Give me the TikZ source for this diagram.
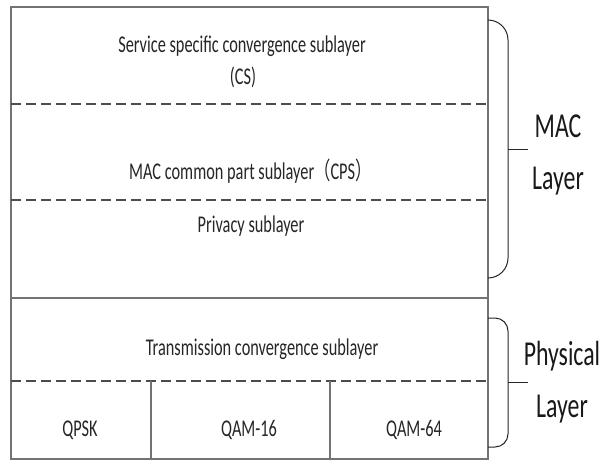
\documentclass[tikz,border=0pt]{standalone}
\usepackage{fontspec}
\setmainfont{Carlito}
\newfontfamily\cjk{Noto Sans CJK SC}
\usepackage{graphicx}
% narrow text, as in the layer labels
\newcommand{\cond}[1]{\scalebox{0.68}[1]{#1}}
\tikzset{
  layerbox/.style={draw=black!55, line width=1.5pt},
  sep/.style={draw=black!70, line width=2.4pt, dash pattern=on 10pt off 5pt},
  brace/.style={draw=black!85, line width=1pt},
  lbl/.style={font=\fontsize{24}{29}\selectfont, text=black!85, inner sep=0pt},
  side/.style={font=\fontsize{35}{52}\selectfont, align=center, text=black!90, inner sep=0pt},
}
\begin{document}
\begin{tikzpicture}[x=1pt,y=-1pt]
\useasboundingbox (0,0) rectangle (603,461);
\fill[white] (0,0) rectangle (603,461);
% MAC sublayers
\draw[layerbox] (11,7) rectangle (488,298);
\draw[sep] (11,104) -- (488,104);
\draw[sep] (11,200) -- (488,200);
% physical sublayers
\draw[layerbox] (11,298) rectangle (488,459);
\draw[sep] (11,381) -- (488,381);
\draw[layerbox] (151,381) -- (151,459) (330,381) -- (330,459);

\node[lbl] (cs1) at (242,46) {\cond{Service specific convergence sublayer}};
\node[lbl] (cs2) at (243,77) {\cond{(CS)}};
\node[lbl,anchor=west] (cps) at (129,171) {\cond{MAC common part sublayer{\cjk （}CPS{\cjk ）}}};
\node[lbl] (priv) at (251,226) {\cond{Privacy sublayer}};
\node[lbl] (tc) at (262,349) {\cond{Transmission convergence sublayer}};
\node[lbl] (qpsk) at (80,430) {\cond{QPSK}};
\node[lbl] (qam16) at (249,430) {\cond{QAM-16}};
\node[lbl] (qam64) at (414,430) {\cond{QAM-64}};

% braces on the right
\draw[brace,rounded corners=20pt] (488,20) -- (508,20) -- (508,278) -- (488,278);
\draw[brace,rounded corners=13pt] (488,318) -- (508,318) -- (508,447) -- (488,447);

\node[side] (mac) at (558,155) {\cond{MAC}\\\cond{Layer}};
\node[side] (phy) at (562,382) {\cond{Physical}\\\cond{Layer}};
\coordinate (macb) at (508,149);
\coordinate (phyb) at (508,382);
\coordinate (mact) at (528,149);
\coordinate (phyt) at (528,382);
\draw[brace] (macb) -- (mact);
\draw[brace] (phyb) -- (phyt);
\end{tikzpicture}
\end{document}
